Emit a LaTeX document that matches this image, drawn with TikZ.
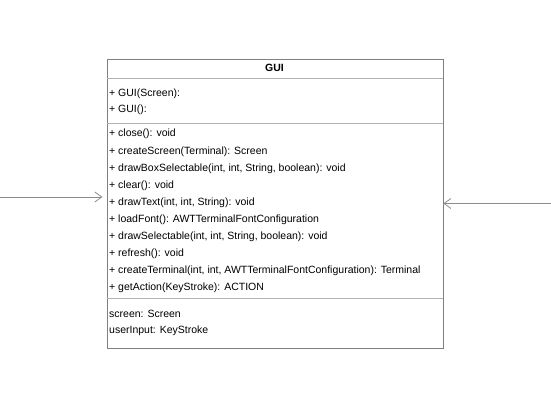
\documentclass[tikz,border=0pt]{standalone}
\usepackage{fontspec}
\setmainfont{Liberation Sans}
\usetikzlibrary{arrows.meta}
\begin{document}
\begin{tikzpicture} [
                x=1pt, y=-1pt,
                classbox/.style={draw=black!50,line width=0.8pt,anchor=north west,inner sep=0pt,minimum width=336pt,minimum height=289pt},
                member/.style={anchor=base west,inner sep=0pt,font=\fontsize{10.5}{12}\selectfont},
                title/.style={anchor=base,inner sep=0pt,font=\fontsize{10.5}{12}\selectfont\bfseries},
                sep/.style={draw=black!30,line width=0.8pt},
                assoc/.style={draw=black!45,line width=0.8pt,-{Straight Barb[length=7pt,width=10pt]}},
            ]
            \useasboundingbox (0,0) rectangle (551,411);
            % The class box and its compartments
            \node[classbox] (gui) at (106.5,59) {};
            \node[title] (name) at (274.5,71.5) {GUI};
            \foreach \y in {78, 123, 298}
                \path[sep] (gui.west |- 0,\y) -- (gui.east |- 0,\y);
            % Constructors, methods and fields
            \foreach \y/\name/\txt in {
                    97/c1/{+ GUI(Screen):}, 113/c2/{+ GUI():},
                    137/m1/{+ close(): void},
                    154.1/m2/{+ createScreen(Terminal): Screen},
                    171.2/m3/{+ drawBoxSelectable(int, int, String, boolean): void},
                    188.3/m4/{+ clear(): void},
                    205.4/m5/{+ drawText(int, int, String): void},
                    222.5/m6/{+ loadFont(): AWTTerminalFontConfiguration},
                    239.6/m7/{+ drawSelectable(int, int, String, boolean): void},
                    256.7/m8/{+ refresh(): void},
                    273.8/m9/{+ createTerminal(int, int, AWTTerminalFontConfiguration): Terminal},
                    290.9/m10/{+ getAction(KeyStroke): ACTION},
                    317/f1/{screen: Screen}, 334/f2/{userInput: KeyStroke}}
                \node[member] (\name) at (109,\y) {\txt};
            % Incoming associations
            \coordinate (inL) at (0,197);
            \coordinate (inR) at (551,203.5);
            \path[assoc,shorten >=4pt] (inL) -- (inL -| gui.west);
            \path[assoc] (inR) -- (inR -| gui.east);
        \end{tikzpicture}
\end{document}
